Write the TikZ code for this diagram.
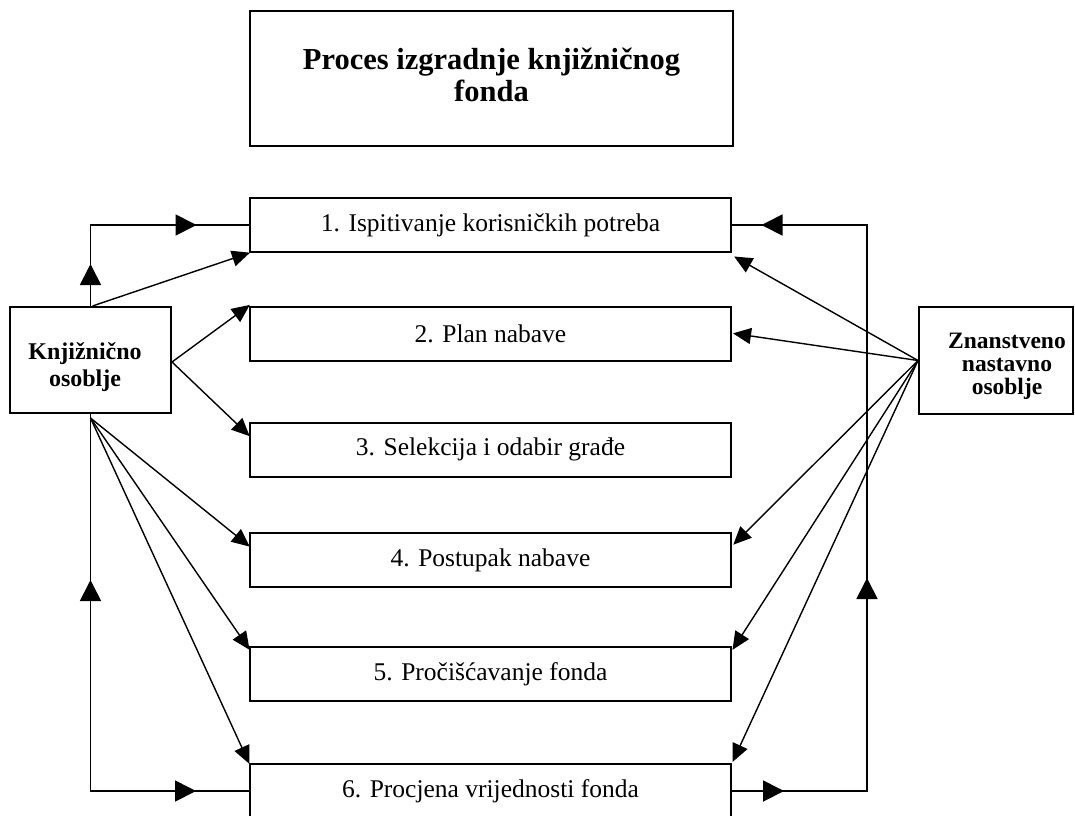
\documentclass[tikz,border=0pt]{standalone}
\usepackage{fontspec}
\setmainfont{Liberation Serif}
\usetikzlibrary{arrows.meta,decorations.markings}
\begin{document}
\begin{tikzpicture}[x=1pt,y=-1pt,
  stepbox/.style={draw, line width=2pt, inner sep=0pt, minimum width=481pt, minimum height=54pt,
    font=\fontsize{25.5}{27}\selectfont},
  sidebox/.style={draw, line width=2pt, inner sep=0pt},
  sidetext/.style={align=center, inner sep=0pt},
  loopline/.style={line width=1.8pt},
  diag/.style={line width=1.4pt, -{Triangle[length=18pt,width=16pt]}, shorten >=-1pt},
  fwd/.style={postaction={decorate,decoration={markings,mark=at position #1 with {\arrow{Triangle[length=21pt,width=21pt]}}}}},
  bwd/.style={postaction={decorate,decoration={markings,mark=at position #1 with {\arrowreversed{Triangle[length=21pt,width=21pt]}}}}}
]
\useasboundingbox (0,0) rectangle (1075,815);
\fill[white] (0,0) rectangle (1075,815);

% title
\node[draw, line width=2pt, minimum width=483pt, minimum height=135pt, inner sep=0pt] (title) at (491.5,78.5) {};
\node[align=center, inner sep=0pt, font=\fontsize{30.5}{32}\bfseries\selectfont] (titletext) at (491.5,75) {Proces izgradnje knjižničnog\\fonda};

% steps
\node[stepbox] (s1) at (490.5,225) {1. Ispitivanje korisničkih potreba};
\node[stepbox] (s2) at (490.5,333.5) {2. Plan nabave};
\node[stepbox] (s3) at (490.5,449.5) {3. Selekcija i odabir građe};
\node[stepbox] (s4) at (490.5,560) {4. Postupak nabave};
\node[stepbox] (s5) at (490.5,674) {5. Pročišćavanje fonda};
\node[stepbox] (s6) at (490.5,791) {6. Procjena vrijednosti fonda};

% side boxes
\node[sidebox, minimum width=161pt, minimum height=106pt] (ks) at (90.5,360) {};
\node[sidetext, font=\fontsize{24}{27}\bfseries\selectfont] (kstext) at (85,367) {Knjižnično\\osoblje};
\node[sidebox, minimum width=154pt, minimum height=107pt] (zr) at (996,360.5) {};
\node[sidetext, font=\fontsize{23.5}{23}\bfseries\selectfont] (zrtext) at (1007,366) {Znanstveno\\nastavno\\osoblje};

\coordinate (rx) at (867,0);

% loops
\draw[loopline, fwd=42pt, fwd=187pt] (ks.north) |- (s1.west);
\draw[loopline, bwd=166pt, fwd=482.5pt] (ks.south) |- (s6.west);
\draw[loopline, fwd=52pt, fwd=348pt, fwd=806.5pt] (s6.east) -- (s6.east -| rx) -- (s1.east -| rx) -- (s1.east);

% left fan
\draw[diag] ([xshift=2pt]ks.north) -- (s1.south west);
\draw[diag] ([yshift=-2pt]ks.east) -- (s2.north west);
\draw[diag] ([yshift=-2pt]ks.east) -- ([yshift=-14pt]s3.north west);
\draw[diag] ([yshift=-4pt]ks.south) -- ([yshift=-14pt]s4.north west);
\draw[diag] ([yshift=-4pt]ks.south) -- ([yshift=-3pt]s5.north west);
\draw[diag] ([yshift=-4pt]ks.south) -- (s6.north west);

% right fan
\draw[diag] (zr.west) -- ([shift={(3,4)}]s1.south east);
\draw[diag] (zr.west) -- ([xshift=2pt]s2.east);
\draw[diag] (zr.west) -- ([shift={(2,12)}]s4.north east);
\draw[diag] (zr.west) -- ([shift={(1,3)}]s5.north east);
\draw[diag] (zr.west) -- ([shift={(1,-2)}]s6.north east);
\end{tikzpicture}
\end{document}
